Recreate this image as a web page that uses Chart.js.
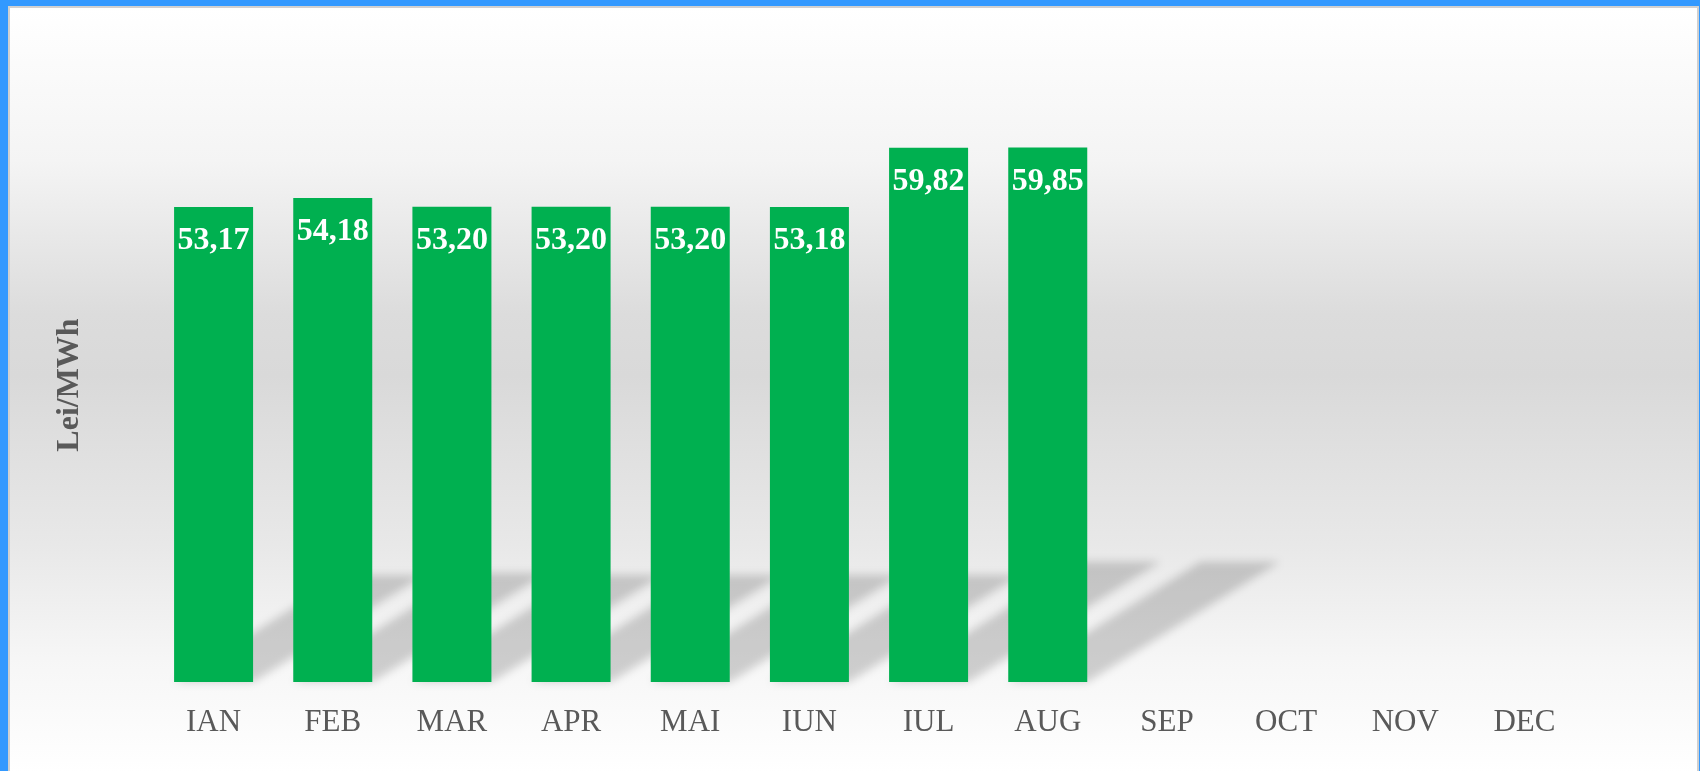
<!DOCTYPE html>
<html>
<head>
<meta charset="utf-8">
<script src="https://cdn.jsdelivr.net/npm/chart.js@4"></script>
<style>
  html, body { margin: 0; padding: 0; background: #3399ff; }
  #panel {
    position: absolute; left: 8px; top: 6px; width: 1687px; height: 765px;
    border-top: 2px solid #d0d0d0; border-left: 2px solid #d0d0d0; border-right: 2px solid #d0d0d0;
    background: linear-gradient(to bottom, #ffffff 0%, #f4f4f4 20%, #dcdcdc 40%, #d9d9d9 48%, #e8e8e8 70%, #f6f6f6 85%, #ffffff 100%);
  }
  #wrap { position: absolute; left: 0; top: 0; width: 1700px; height: 771px; }
</style>
</head>
<body>
<div id="panel"></div>
<div id="wrap"><canvas id="barChart"></canvas></div>
<script>
var months = ['IAN', 'FEB', 'MAR', 'APR', 'MAI', 'IUN', 'IUL', 'AUG', 'SEP', 'OCT', 'NOV', 'DEC'];
var prices = [53.17, 54.18, 53.20, 53.20, 53.20, 53.18, 59.82, 59.85, null, null, null, null];
var axisTitle = 'Lei/MWh';

Chart.defaults.font.family = '"Liberation Serif", "Times New Roman", serif';

// perspective shadow behind each bar
var barShadow = {
    id: 'barShadow',
    beforeDatasetsDraw: function (chart) {
        var ctx = chart.ctx;
        var meta = chart.getDatasetMeta(0);
        ctx.save();
        ctx.filter = 'blur(4px)';
        ctx.fillStyle = 'rgba(0, 0, 0, 0.17)';
        meta.data.forEach(function (bar, i) {
            if (prices[i] == null) return;
            var h = (bar.base - bar.y) * 0.225;
            var dx = h * 1.6;
            var x0 = bar.x - bar.width / 2, x1 = bar.x + bar.width / 2;
            ctx.beginPath();
            ctx.moveTo(x0, bar.base);
            ctx.lineTo(x1, bar.base);
            ctx.lineTo(x1 + dx, bar.base - h);
            ctx.lineTo(x0 + dx, bar.base - h);
            ctx.closePath();
            ctx.fill();
        });
        ctx.restore();
    }
};

// value labels inside top of bars
var barLabels = {
    id: 'barLabels',
    afterDatasetsDraw: function (chart) {
        var ctx = chart.ctx;
        var meta = chart.getDatasetMeta(0);
        ctx.save();
        ctx.font = 'bold 32px "Liberation Serif", "Times New Roman", serif';
        ctx.fillStyle = '#ffffff';
        ctx.textAlign = 'center';
        ctx.textBaseline = 'middle';
        meta.data.forEach(function (bar, i) {
            if (prices[i] == null) return;
            ctx.fillText(prices[i].toFixed(2).replace('.', ','), bar.x, bar.y + 34);
        });
        ctx.restore();
    }
};

var ctx = document.getElementById('barChart').getContext('2d');
var myChart = new Chart(ctx, {
    type: 'bar',
    data: {
        labels: months,
        datasets: [{
            label: axisTitle,
            data: prices,
            backgroundColor: '#00b050',
            borderWidth: 0,
            categoryPercentage: 1,
            barPercentage: 0.663
        }]
    },
    options: {
        responsive: true,
        maintainAspectRatio: false,
        animation: false,
        layout: {
            padding: {
                left: 51,
                right: 116,
                top: 88,
                bottom: 0
            }
        },
        scales: {
            x: {
                grid: { display: false },
                border: { display: false },
                ticks: {
                    color: '#595959',
                    font: { size: 31 },
                    padding: 14,
                    maxRotation: 0
                },
                afterFit: function (scale) { scale.height = 89; }
            },
            y: {
                min: 0,
                max: 66.5,
                grid: { display: false },
                border: { display: false },
                ticks: { display: false },
                title: {
                    display: true,
                    text: axisTitle,
                    color: '#595959',
                    font: { size: 32, weight: 'bold' },
                    padding: 0
                },
                afterFit: function (scale) { scale.width = 103; }
            }
        },
        plugins: {
            legend: { display: false },
            tooltip: { enabled: false }
        }
    },
    plugins: [barShadow, barLabels]
});
</script>
</body>
</html>
